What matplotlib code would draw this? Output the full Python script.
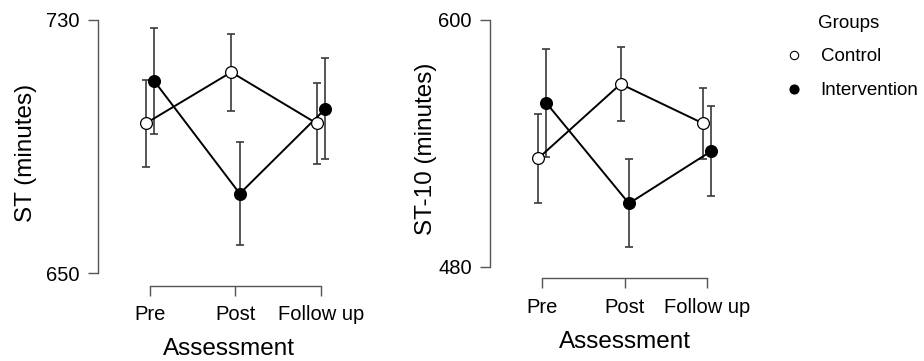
import numpy as np
import matplotlib
matplotlib.use("Agg")
import matplotlib.pyplot as plt
from matplotlib.lines import Line2D

plt.rcParams['font.family'] = ['Liberation Sans', 'DejaVu Sans']

assessments = ['Pre', 'Post', 'Follow up']
groups = ['Control', 'Intervention']

# ST (minutes)
st_control = [697.3, 713.5, 697.3]
st_control_err = [13.8, 12.2, 12.8]
st_interv = [710.7, 675.1, 701.9]
st_interv_err = [16.7, 16.2, 16.0]

# ST-10 (minutes)
st10_control = [532.7, 568.9, 549.7]
st10_control_err = [21.5, 18.2, 17.3]
st10_interv = [559.6, 510.8, 536.3]
st10_interv_err = [26.2, 21.4, 21.9]

DODGE = 0.05
INK = '#555555'
ECOL = '#3a3a3a'


def draw_panel(ax, ctrl, ctrl_err, intv, intv_err, ylab, yticks, ylim, xlim, ylabpad):
    x = np.arange(len(assessments))
    for vals, errs, off, face in [(ctrl, ctrl_err, -DODGE, 'white'),
                                  (intv, intv_err, DODGE, 'black')]:
        xs = x + off
        ax.errorbar(xs, vals, yerr=errs, fmt='none', ecolor=ECOL,
                    elinewidth=1.2, capsize=2.8, capthick=1.2, zorder=1)
        ax.plot(xs, vals, color='black', lw=1.4, zorder=2)
        ax.plot(xs, vals, 'o', ms=8.5, mfc=face, mec='black', mew=0.9, zorder=3)

    ax.set_xlim(*xlim)
    ax.set_ylim(*ylim)
    ax.set_xticks(x)
    ax.set_xticklabels(assessments)
    ax.set_yticks(yticks)
    for s in ['top', 'right']:
        ax.spines[s].set_visible(False)
    ax.spines['left'].set_bounds(yticks[0], yticks[-1])
    ax.spines['bottom'].set_bounds(0, 2)
    for s in ['left', 'bottom']:
        ax.spines[s].set_linewidth(1.0)
        ax.spines[s].set_color(INK)
    ax.tick_params(axis='both', length=7, width=1.0, color=INK,
                   labelsize=14.5, labelcolor='black')
    ax.tick_params(axis='x', pad=7)
    ax.tick_params(axis='y', pad=6)
    ax.set_ylabel(ylab, fontsize=17.5, labelpad=ylabpad)
    ax.set_xlabel('Assessment', fontsize=17.5, labelpad=10)


fig = plt.figure(figsize=(9.24, 3.61), dpi=100)
ax1 = fig.add_axes([98 / 924, 75 / 361, 262 / 924, 266 / 361])
ax2 = fig.add_axes([490 / 924, 82.7 / 361, 270 / 924, 258.3 / 361])

draw_panel(ax1, st_control, st_control_err, st_interv, st_interv_err,
           'ST (minutes)', [650, 730], (645.9, 730), (-0.608, 2.456), 7)
draw_panel(ax2, st10_control, st10_control_err, st10_interv, st10_interv_err,
           'ST-10 (minutes)', [480, 600], (474.4, 600), (-0.634, 2.639), 1)

handles = [Line2D([], [], ls='none', marker='o', ms=6, mfc='white', mec='black', mew=0.8),
           Line2D([], [], ls='none', marker='o', ms=6.5, mfc='black', mec='black', mew=0.8)]
fig.text(818 / 924, 1 - 24 / 361, 'Groups', fontsize=13.5, ha='left', va='center')
fig.legend(handles, groups, loc='upper left',
           bbox_to_anchor=(786 / 924, 1 - 48 / 361), frameon=False,
           fontsize=13.5, handletextpad=0.95, labelspacing=0.9,
           handlelength=0.9, borderaxespad=0, borderpad=0)

fig.savefig('out.png', dpi=100)
